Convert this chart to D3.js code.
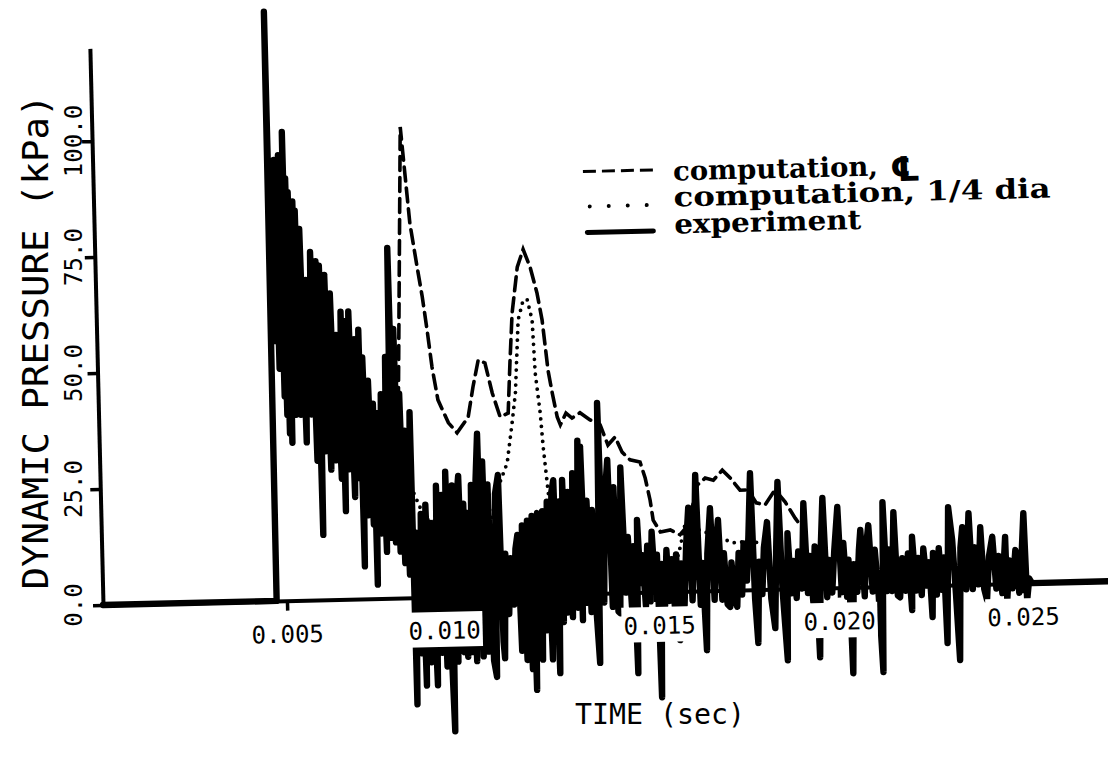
<!DOCTYPE html>
<html><head><meta charset="utf-8">
<script src="https://cdn.jsdelivr.net/npm/d3@7"></script>
<style>body{margin:0;background:#fff}svg{display:block}</style>
</head><body>
<svg id="c" width="1108" height="760"></svg>
<script>
// time in ms, pressure in kPa
const xTicks = [5, 10, 15, 20, 25];
const xTickLabels = ["0.005", "0.010", "0.015", "0.020", "0.025"];
const yTicks = [0, 25, 50, 75, 100];
const yTickLabels = ["0.0", "25.0", "50.0", "75.0", "100.0"];
const seriesNames = ["computation,", "computation, 1/4 dia", "experiment"];
const centerSymbol = "\u2104";
const xTitle = "TIME (sec)";
const yTitle = "DYNAMIC PRESSURE (kPa)";

const computationCenter = [
[4.70,0],[4.76,62],[5.09,47.6],[5.42,41],[5.80,44],[6.50,46],[7.20,40],[7.80,36],[8.13,35.6],[8.38,101.5],
[8.58,80.7],[8.75,71.2],[8.87,64.8],[8.98,57.6],[9.09,49.6],[9.23,42.5],[9.50,37.5],[9.73,35.3],[10.04,38.6],
[10.19,45.1],[10.35,50.9],[10.53,50.2],[10.71,43.7],[10.91,38.5],[11.13,39.3],[11.21,50.1],[11.30,60.8],
[11.47,70.7],[11.64,74.5],[11.82,70.6],[11.99,65.0],[12.11,59.2],[12.18,53.4],[12.24,48.3],[12.34,43.4],
[12.46,38.2],[12.54,36.5],[12.70,39.0],[12.86,37.9],[13.08,39.0],[13.35,37.4],[13.62,36.3],[13.82,31.9],
[14.02,33.6],[14.20,30.3],[14.41,28.6],[14.68,28.1],[14.81,24.6],[14.93,19.8],[15.00,15.5],[15.19,12.9],
[15.46,13.3],[15.72,12.2],[15.95,14.2],[16.22,22.8],[16.44,24.3],[16.66,23.8],[16.91,25.9],[17.12,24.2],
[17.38,21.5],[17.60,21.5],[17.81,18.7],[18.05,18.2],[18.33,21.4],[18.60,18.7],[18.86,15.2],[18.99,13.7]
];

const computationQuarter = [
[4.70,0],[4.76,62],[5.10,48],[5.40,42],[6.00,44],[6.80,40],[7.50,33],[8.22,28.2],[8.76,17.8],[8.94,16.2],
[9.30,17],[9.80,16],[10.30,15],[10.57,14.8],[10.78,22.8],[11.07,28.5],[11.23,37.1],[11.34,43.6],[11.46,59.3],
[11.61,63.6],[11.72,63.6],[11.84,59.2],[11.89,47.8],[12.00,39.2],[12.06,31.8],[12.21,18.2],[12.33,16.0],
[13.0,12],[14.0,8],[15.0,5],[15.55,5],[15.70,9],[15.85,14],[16.3,13],[17.16,10.2],[17.60,10.5],[17.89,10.0]
];

const experiment = [
[0,0],[4.72,0],[4.75,127],[4.77,60],
[4.80,72],[4.83,56],[4.86,94],[4.89,58],[4.92,95],[4.95,50],[4.98,90],[5.01,57],[5.04,96],[5.07,44],[5.10,92],
[5.13,40],[5.16,101],[5.19,36],[5.22,91],[5.25,34],[5.28,88],[5.31,42],[5.34,85],[5.37,40],[5.40,86],[5.43,44],[5.46,84],
[5.50,40],[5.57,80],[5.64,34],[5.71,69],[5.78,40],[5.85,75],[5.92,30],[5.99,73],[6.03,14],[6.08,72],[6.15,32],
[6.22,70],[6.29,28],[6.36,66],[6.43,30],[6.50,57],[6.57,26],[6.64,62],[6.66,19],[6.71,60],[6.78,28],[6.85,62],
[6.92,22],[6.99,56],[7.06,26],[7.11,58],[7.14,7],[7.20,52],[7.27,18],[7.34,47],[7.41,16],[7.46,42],[7.48,3],
[7.54,40],[7.61,14],[7.68,44],[7.75,10],[7.82,52],[7.88,13],[7.95,75.5],[8.00,12],[8.06,58],[8.12,10],[8.18,44],
[8.24,7.5],[8.30,36],[8.36,5],[8.45,40],[8.48,-23],
[8.55,14],[8.62,-12],[8.69,18],[8.75,-19],[8.82,20],[8.89,-14],[8.96,16],[9.05,-19],[9.12,24],[9.19,-12],[9.26,22],
[9.32,-15],[9.38,27],[9.44,-10],[9.49,-29],[9.55,24],[9.62,-14],[9.68,22],[9.73,26],[9.79,-12],[9.85,20],[9.89,-13],
[9.95,18],[10.01,-12],[10.07,24],[10.13,-14],[10.20,25],[10.27,35],[10.31,-13],[10.39,29],[10.45,-12],[10.52,24],
[10.59,-14],[10.66,-17.5],[10.72,22],[10.81,26],[10.86,-10],[10.89,-13.5],[10.96,9],[11.03,-4],[11.10,8],[11.17,-2],
[11.24,10],[11.30,13],[11.36,-12],[11.43,15],[11.50,-14],[11.57,16],[11.64,-16],[11.70,17],[11.74,-20.5],[11.80,15],
[11.85,17.6],[11.92,-14],[11.99,18],[12.05,-7.7],[12.12,20],[12.19,-14],[12.25,22],[12.31,24.6],[12.38,-17],
[12.45,20],[12.51,-6],[12.55,24.6],[12.62,-4],[12.69,22],[12.76,-5],[12.83,26],[12.90,-3],[12.99,33],[13.03,-5.7],
[13.06,31.7],[13.13,-2],[13.20,20],[13.27,-4],[13.34,18],[13.40,-3],[13.47,-15],[13.55,41],[13.62,-2],[13.69,20],
[13.79,28.7],[13.85,-3],[13.94,22.8],[14.00,-4],[14.05,-4.4],[14.14,27],[14.22,0],[14.30,12],[14.37,-3],[14.44,10],
[14.50,-17.4],[14.56,15.6],[14.62,2],[14.68,8],
[14.75,-3],[14.82,10],[14.88,-2],[14.95,13],[15.02,0],[15.08,8],[15.13,-22.7],[15.20,6],[15.27,-3],[15.34,9],
[15.40,-2],[15.47,7],[15.54,-4],[15.60,8],[15.66,-10.5],[15.73,6],[15.80,-3],[15.88,10],[15.96,18],[16.02,-2],
[16.09,8],[16.17,25],[16.24,-3],[16.31,6],[16.38,-12.8],[16.45,8],[16.55,17.8],[16.62,-2],[16.69,10],[16.76,15.2],
[16.83,-2],[16.90,8],[16.97,-3],[17.04,-3.6],[17.10,6],[17.17,-2],[17.23,-3.6],[17.30,8],[17.37,-1],[17.44,10],
[17.51,2],[17.58,12],[17.66,25.1],[17.72,-2],[17.78,-11.5],[17.85,6],[17.92,-1],[17.99,9],[18.09,14.5],[18.16,-2],
[18.25,-8.4],[18.32,8],[18.40,23.1],[18.47,0],[18.57,-15.4],[18.64,12],[18.71,-1],[18.78,6],[18.85,-2],[18.92,8],
[19.00,0],[19.09,18.4],[19.16,-1],[19.23,7],[19.30,-3],[19.37,9],[19.45,-14.9],[19.53,8],[19.61,19.4],[19.68,-2],
[19.75,6],[19.82,-1],[19.90,8],[20.01,17.4],[20.08,-1],[20.15,9.6],[20.22,-2],[20.28,6],[20.34,-18.5],[20.42,5],
[20.50,-1],[20.57,8],[20.62,12.3],[20.70,-2],[20.77,9],[20.84,13.3],[20.92,-1],[21.00,8],[21.08,-2],[21.16,-18.4],
[21.24,18.2],[21.31,-1],[21.38,8],[21.45,-1],[21.53,16],[21.60,-2],[21.66,-2.4],[21.74,6],[21.82,-1],[21.90,7],
[21.98,-5.2],[22.02,10.6],[22.10,-1],[22.17,6],[22.25,-2],[22.32,8],[22.40,0],[22.47,5],[22.53,-6.8],[22.58,7],
[22.66,-2],[22.74,8],[22.80,-1],[22.87,6],[22.92,-12.5],[23.02,16.8],[23.11,9.7],[23.18,-2],[23.25,-16.2],[23.33,8],
[23.39,12.4],[23.46,-1],[23.57,15.4],[23.64,-1],[23.72,8],[23.80,0],[23.88,12.3],[23.95,-1],[24.02,-3.4],[24.10,6],
[24.20,10.2],[24.28,-1],[24.36,6],[24.44,-2],[24.55,10.1],[24.57,-3.5],[24.65,5],[24.72,-1],[24.82,7.2],[24.90,-2],
[24.97,4],[25.06,15.1],[25.11,-3.6],[25.18,1],[25.25,0],[27.5,0]
];

const svg = d3.select("#c");
const W = 1012, H = 556.8;
const x = d3.scaleLinear().domain([0, 27.5]).range([0, W]);
const y = d3.scaleLinear().domain([0, 120]).range([0, -H]);
const ox = 103, oy = 605;
const plot = svg.append("g").attr("transform", `translate(${ox},${oy}) rotate(-1.35)`);
const flat = svg.append("g").attr("transform", `translate(${ox},${oy})`);
const mono = "'DejaVu Sans Mono', monospace";

// axes
plot.append("g")
  .call(d3.axisBottom(x).tickValues(xTicks).tickSize(10).tickSizeOuter(0).tickFormat(""))
  .call(g => { g.select(".domain").attr("stroke", "#000").attr("stroke-width", 4);
               g.selectAll(".tick line").attr("stroke", "#000").attr("stroke-width", 3.5); });
plot.append("g")
  .call(d3.axisLeft(y).tickValues(yTicks).tickSize(10).tickSizeOuter(0).tickFormat(""))
  .call(g => { g.select(".domain").attr("stroke", "#000").attr("stroke-width", 4);
               g.selectAll(".tick line").attr("stroke", "#000").attr("stroke-width", 3.5); });

const line = d3.line().x(d => x(d[0])).y(d => y(d[1]));
plot.append("path").datum(computationCenter).attr("d", line)
  .attr("fill", "none").attr("stroke", "#000").attr("stroke-width", 3.6)
  .attr("stroke-dasharray", "14,7").attr("stroke-linecap", "round");
plot.append("path").datum(computationQuarter).attr("d", line)
  .attr("fill", "none").attr("stroke", "#000").attr("stroke-width", 3.8)
  .attr("stroke-dasharray", "0,7.5").attr("stroke-linecap", "round");
plot.append("path").datum(experiment).attr("d", line)
  .attr("fill", "none").attr("stroke", "#000").attr("stroke-width", 6.4)
  .attr("stroke-linejoin", "round").attr("stroke-linecap", "round");

// x tick labels with white boxes
const labelShift = {"0.010": -27, "0.015": 4};
xTicks.forEach((t, i) => {
  const lab = xTickLabels[i];
  const g = plot.append("g").attr("transform", `translate(${x(t) + (labelShift[lab] || 0)},0)`);
  g.append("rect").attr("x", -38).attr("y", 15).attr("width", 76).attr("height", 35).attr("fill", "#fff");
  g.append("text").attr("y", 42).attr("text-anchor", "middle")
    .attr("font-family", mono).attr("font-size", 24).attr("fill", "#000").text(lab);
});

// y tick labels (upright column)
yTicks.forEach((v, i) => {
  flat.append("text").attr("transform", `translate(-30,${y(v)}) rotate(-90)`)
    .attr("text-anchor", "middle").attr("dy", "0.36em")
    .attr("font-family", mono).attr("font-size", 24).attr("fill", "#000").text(yTickLabels[i]);
});

// titles
flat.append("text").attr("transform", `translate(-68,-263) rotate(-90)`)
  .attr("text-anchor", "middle").attr("dy", "0.36em")
  .attr("font-family", mono).attr("font-size", 36).attr("fill", "#000")
  .attr("textLength", 495).attr("lengthAdjust", "spacingAndGlyphs").text(yTitle);
flat.append("text").attr("x", 557).attr("y", 119)
  .attr("text-anchor", "middle")
  .attr("font-family", mono).attr("font-size", 29).attr("fill", "#000")
  .attr("textLength", 170).attr("lengthAdjust", "spacingAndGlyphs").text(xTitle);

// legend
const lg = plot.append("g").attr("transform", "translate(490,-422)");
const lfont = "'DejaVu Serif', serif";
lg.append("line").attr("x1", 0).attr("x2", 70).attr("y1", 0).attr("y2", 0)
  .attr("stroke", "#000").attr("stroke-width", 3).attr("stroke-dasharray", "13,6");
lg.append("line").attr("x1", 6).attr("x2", 64).attr("y1", 35).attr("y2", 35)
  .attr("stroke", "#000").attr("stroke-width", 4).attr("stroke-linecap", "round").attr("stroke-dasharray", "0,19");
lg.append("line").attr("x1", 3).attr("x2", 69).attr("y1", 61).attr("y2", 61)
  .attr("stroke", "#000").attr("stroke-width", 5).attr("stroke-linecap", "round");
const rowsY = [11, 37, 64];
const rowsLen = [205, 377, 187];
seriesNames.forEach((n, i) => {
  lg.append("text").attr("x", 90).attr("y", rowsY[i])
    .attr("font-family", lfont).attr("font-weight", "bold").attr("font-size", 27).attr("fill", "#000")
    .attr("textLength", rowsLen[i]).attr("lengthAdjust", "spacingAndGlyphs").text(n);
});
lg.append("text").attr("x", 307).attr("y", 17)
  .attr("font-family", "'DejaVu Sans', sans-serif").attr("font-weight", "bold")
  .attr("font-size", 34).attr("fill", "#000").text(centerSymbol);
</script>
</body></html>
